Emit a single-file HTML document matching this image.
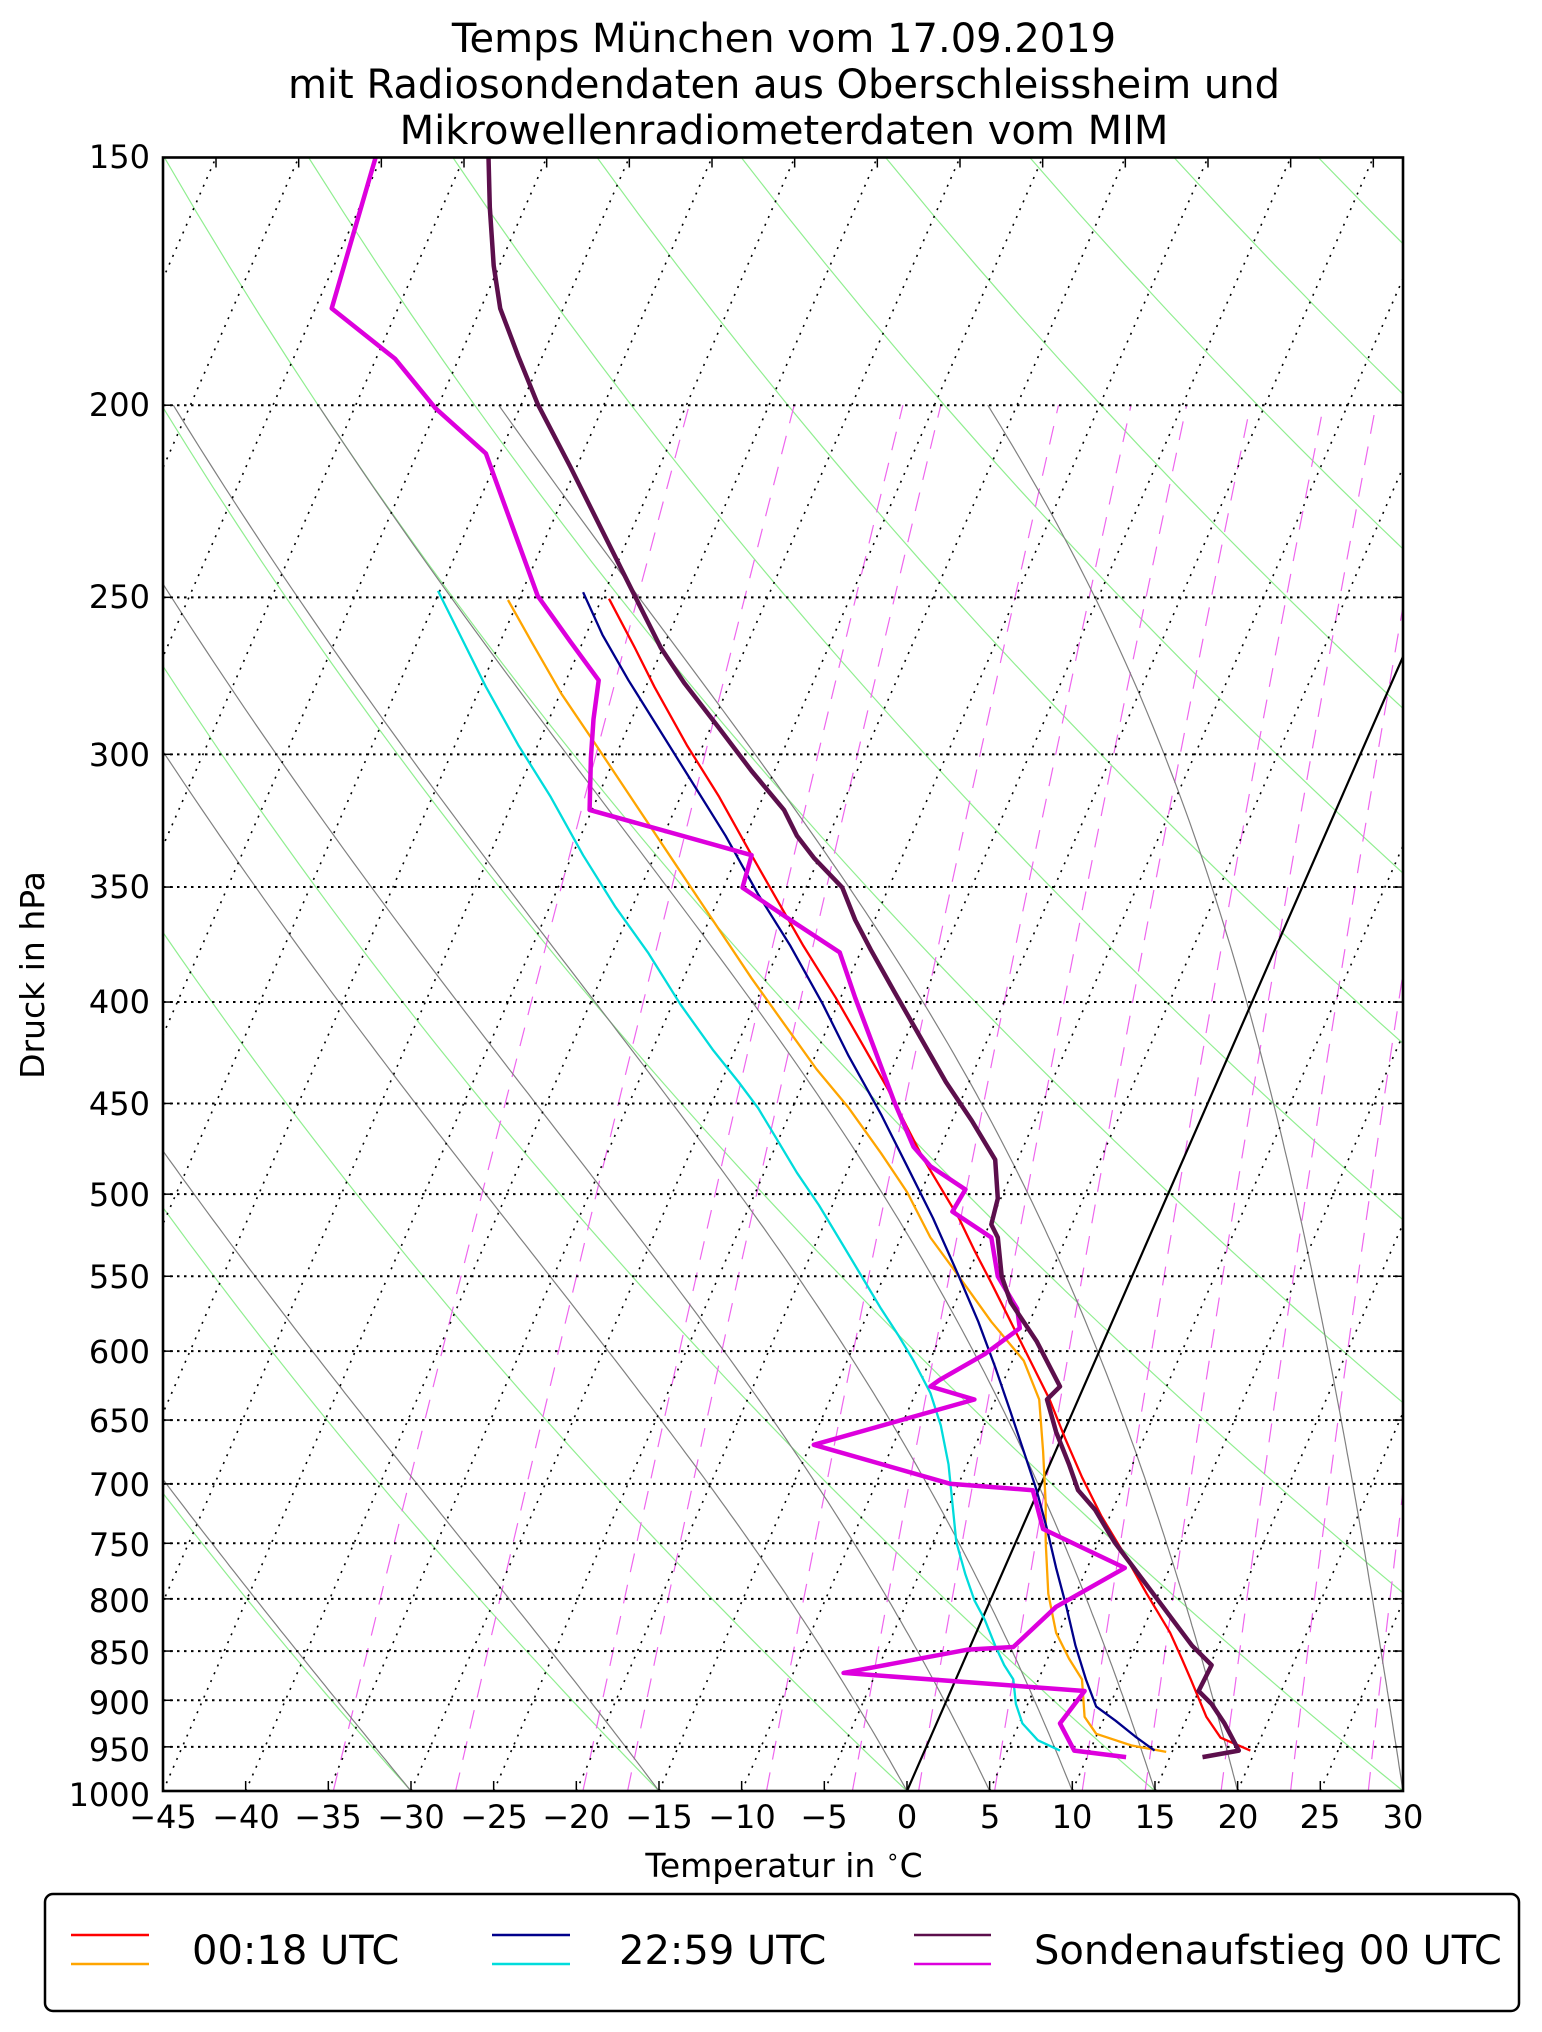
<!DOCTYPE html>
<html><head><meta charset="utf-8">
<style>
html,body{margin:0;padding:0;background:#fff;}
svg{display:block;}
text{font-family:"DejaVu Sans","Liberation Sans",sans-serif;fill:#000;}
</style></head>
<body>
<svg id="s" width="1542" height="2032" viewBox="0 0 1542 2032" xmlns="http://www.w3.org/2000/svg">
<defs><clipPath id="c"><rect x="163" y="157.5" width="1240" height="1633.5"/></clipPath></defs>
<rect width="1542" height="2032" fill="#fff"/>
<g id="bg" clip-path="url(#c)"></g>
<g id="data" clip-path="url(#c)" fill="none" stroke-linejoin="round" stroke-linecap="butt"></g>
<rect x="163" y="157.5" width="1240" height="1633.5" fill="none" stroke="#000" stroke-width="2.6"/>
<g id="ticks" stroke="#000" stroke-width="1.5"></g>
<g font-size="40" text-anchor="middle">
<text x="784" y="52">Temps München vom 17.09.2019</text>
<text x="784" y="98">mit Radiosondendaten aus Oberschleissheim und</text>
<text x="784" y="144">Mikrowellenradiometerdaten vom MIM</text>
</g>
<g id="ylab" font-size="32" text-anchor="end">
<text x="150" y="168">150</text>
<text x="150" y="416">200</text>
<text x="150" y="608">250</text>
<text x="150" y="766">300</text>
<text x="150" y="898">350</text>
<text x="150" y="1013">400</text>
<text x="150" y="1115">450</text>
<text x="150" y="1206">500</text>
<text x="150" y="1288">550</text>
<text x="150" y="1363">600</text>
<text x="150" y="1432">650</text>
<text x="150" y="1496">700</text>
<text x="150" y="1556">750</text>
<text x="150" y="1612">800</text>
<text x="150" y="1664">850</text>
<text x="150" y="1714">900</text>
<text x="150" y="1761">950</text>
<text x="150" y="1806">1000</text>
</g>
<g id="xlab" font-size="32" text-anchor="middle">
<text x="163" y="1828">−45</text>
<text x="246" y="1828">−40</text>
<text x="328" y="1828">−35</text>
<text x="411" y="1828">−30</text>
<text x="494" y="1828">−25</text>
<text x="576" y="1828">−20</text>
<text x="659" y="1828">−15</text>
<text x="742" y="1828">−10</text>
<text x="824" y="1828">−5</text>
<text x="907" y="1828">0</text>
<text x="990" y="1828">5</text>
<text x="1072" y="1828">10</text>
<text x="1155" y="1828">15</text>
<text x="1238" y="1828">20</text>
<text x="1320" y="1828">25</text>
<text x="1403" y="1828">30</text>
</g>
<text x="784" y="1877" font-size="33" text-anchor="middle">Temperatur in <tspan font-size="22" dy="-13">∘</tspan><tspan dy="13">C</tspan></text>
<text transform="translate(44,975) rotate(-90)" font-size="33" text-anchor="middle">Druck in hPa</text>
<rect x="45" y="1894" width="1474" height="117" rx="8" ry="8" fill="#fff" stroke="#000" stroke-width="2.5"/>
<g stroke-width="2.5">
<line x1="71" y1="1935" x2="149" y2="1935" stroke="#ff0000"/>
<line x1="71" y1="1964" x2="149" y2="1964" stroke="#ffa500"/>
<line x1="492" y1="1935" x2="570" y2="1935" stroke="#00008b"/>
<line x1="492" y1="1964" x2="570" y2="1964" stroke="#00dcdc"/>
<line x1="914" y1="1935" x2="991" y2="1935" stroke="#5c0f4c"/>
<line x1="914" y1="1964" x2="991" y2="1964" stroke="#dd00dd"/>
</g>
<g font-size="40">
<text x="192" y="1964">00:18 UTC</text>
<text x="619" y="1964">22:59 UTC</text>
<text x="1034" y="1964">Sondenaufstieg 00 UTC</text>
</g>
</svg>
<script>
(function(){
var NS="http://www.w3.org/2000/svg";
function Y(p){return 157.5+Math.log(p/150)/Math.log(1000/150)*1633.5;}
function X(T,p){return 163+(T+45)*16.533+(1791-Y(p))*0.4373;}
function path(g,d,attrs){var e=document.createElementNS(NS,"path");e.setAttribute("d",d);for(var k in attrs)e.setAttribute(k,attrs[k]);g.appendChild(e);}
function line(g,x1,y1,x2,y2,attrs){var e=document.createElementNS(NS,"line");e.setAttribute("x1",x1);e.setAttribute("y1",y1);e.setAttribute("x2",x2);e.setAttribute("y2",y2);for(var k in attrs)e.setAttribute(k,attrs[k]);g.appendChild(e);}
var bg=document.getElementById("bg");
var ps=[200,250,300,350,400,450,500,550,600,650,700,750,800,850,900,950];
for(var t0=-30;t0<=240;t0+=15){var th=t0+273.15,d="";for(var p=1000;p>=149;p-=10){var T=th*Math.pow(p/1000,0.2857)-273.15;d+=(p==1000?"M":"L")+X(T,p).toFixed(1)+","+Y(p).toFixed(1);}
path(bg,d,{fill:"none",stroke:"#90ee90","stroke-width":1.2});}
function es(t){return 6.112*Math.exp(17.67*t/(t+243.5));}
var tds=[-34.7,-27.3,-19.6,-16.9,-8.5,-3.3,0.7,5.3,10.6,14.4,19.0,23.2,27.9,32.5];
tds.forEach(function(td){var e0=es(td),w=0.622*e0/(1000-e0),d="";for(var p=1000;p>=200;p-=20){var e=w*p/(0.622+w),l=Math.log(e/6.112),T=243.5*l/(17.67-l);d+=(p==1000?"M":"L")+X(T,p).toFixed(1)+","+Y(p).toFixed(1);}
path(bg,d,{fill:"none",stroke:"#ee66ee","stroke-width":1.2,"stroke-dasharray":"19 13"});});
var Rd=287.04,Cp=1005.7,Lv=2.501e6,eps=0.622;
function dTdp(T,p){var tc=T-273.15,e=es(tc),rs=eps*e/(p-e);return (Rd*T+Lv*rs)/(p*(Cp+Lv*Lv*rs*eps/(Rd*T*T)));}
[-30,-15,0,5,10,15,20,30].forEach(function(t0){var T=t0+273.15,d="M"+X(t0,1000).toFixed(1)+","+Y(1000).toFixed(1);for(var p=1000;p>200;p-=5){var dp=-5,k1=dTdp(T,p),k2=dTdp(T+k1*dp,p+dp);T+=0.5*(k1+k2)*dp;d+="L"+X(T-273.15,p+dp).toFixed(1)+","+Y(p+dp).toFixed(1);}
path(bg,d,{fill:"none",stroke:"#808080","stroke-width":1.2});});
for(var t=-150;t<=30;t+=5){path(bg,"M"+X(t,1000).toFixed(1)+","+Y(1000)+"L"+X(t,150).toFixed(1)+","+Y(150),{fill:"none",stroke:"#000","stroke-width":1.6,"stroke-dasharray":"2 6.5"});}
ps.forEach(function(p){line(bg,163,Y(p),1403,Y(p),{stroke:"#000","stroke-width":2,"stroke-dasharray":"2.5 4.5"});});
path(bg,"M"+X(0,1000)+","+Y(1000)+"L"+X(0,150)+","+Y(150),{fill:"none",stroke:"#000","stroke-width":2.2});
var tk=document.getElementById("ticks");
for(var t=-45;t<=30;t+=5){var x=X(t,1000);line(tk,x,1791,x,1781,{});}
for(var t=-130;t<=30;t+=5){var x=X(t,150);if(x>165&&x<1401)line(tk,x,157.5,x,167.5,{});}
ps.concat([150,1000]).forEach(function(p){line(tk,163,Y(p),173,Y(p),{});line(tk,1403,Y(p),1393,Y(p),{});});
var S=1.2958,dg=document.getElementById("data");
function ser(a,col,w){var d="";for(var i=0;i<a.length;i+=2)d+=(i?"L":"M")+(a[i]*S).toFixed(1)+","+(a[i+1]*S).toFixed(1);path(dg,d,{stroke:col,"stroke-width":w,fill:"none"});}
ser([338,456,355,490,375,530,400,575,425,615,450,660,475,700,500,735,525,775,550,810,570,835,585,855,600,880,615,905,632,930,650,960,665,985,680,1010,693,1030,705,1050,718,1075,726,1100,732,1130,735,1160,738,1190,745,1215,752,1235,760,1250,768,1270,775,1285,782,1296,784,1315,789,1330,801,1343,818,1351],"#00dcdc",2.3);
ser([392,463,410,495,433,535,460,575,490,620,520,665,550,710,580,755,605,790,630,825,655,855,680,890,700,920,718,955,740,985,765,1020,790,1050,802,1080,805,1120,807,1160,807,1190,809,1230,815,1260,825,1280,835,1296,837,1325,846,1338,873,1347,900,1352],"#ffa500",2.3);
ser([450,457,465,490,485,525,510,565,535,605,560,645,585,690,610,730,635,775,655,815,680,860,700,900,720,940,740,985,755,1020,768,1055,780,1090,790,1120,800,1150,808,1180,815,1210,823,1240,830,1270,838,1296,846,1317,861,1328,876,1340,891,1351],"#00008b",2.3);
ser([470,462,490,500,505,530,530,575,555,615,580,660,600,695,620,730,645,770,665,805,685,840,700,870,713,895,725,915,740,940,752,965,765,990,780,1020,795,1050,810,1080,822,1110,835,1140,850,1170,868,1200,885,1230,903,1260,912,1280,919,1296,931,1325,942,1341,965,1351],"#ff0000",2.3);
ser([290,121,256,238,305,277,336,315,375,350,395,405,415,460,440,495,462,525,458,555,456,585,455,625,580,660,573,685,610,710,648,735,660,770,675,810,690,850,705,885,718,900,745,918,735,935,765,955,770,985,785,1010,787,1025,760,1045,725,1065,718,1070,752,1080,628,1115,733,1145,797,1150,805,1180,868,1210,815,1240,782,1271,747,1273,651,1291,837,1305,818,1330,829,1351,869,1356],"#dd00dd",4.5);
ser([377,121,378,160,381,205,386,238,400,275,415,312,440,360,465,410,490,460,510,500,528,527,555,562,580,595,605,625,615,645,628,662,650,685,660,710,672,733,690,765,710,800,730,835,750,865,768,895,770,925,765,945,770,955,773,985,780,1005,800,1035,818,1070,808,1080,815,1105,825,1130,832,1150,845,1165,860,1190,875,1210,890,1230,905,1250,920,1270,935,1285,930,1295,925,1305,935,1315,945,1330,956,1351,928,1356],"#5c0f4c",4.5);
})();
</script>
</body></html>
